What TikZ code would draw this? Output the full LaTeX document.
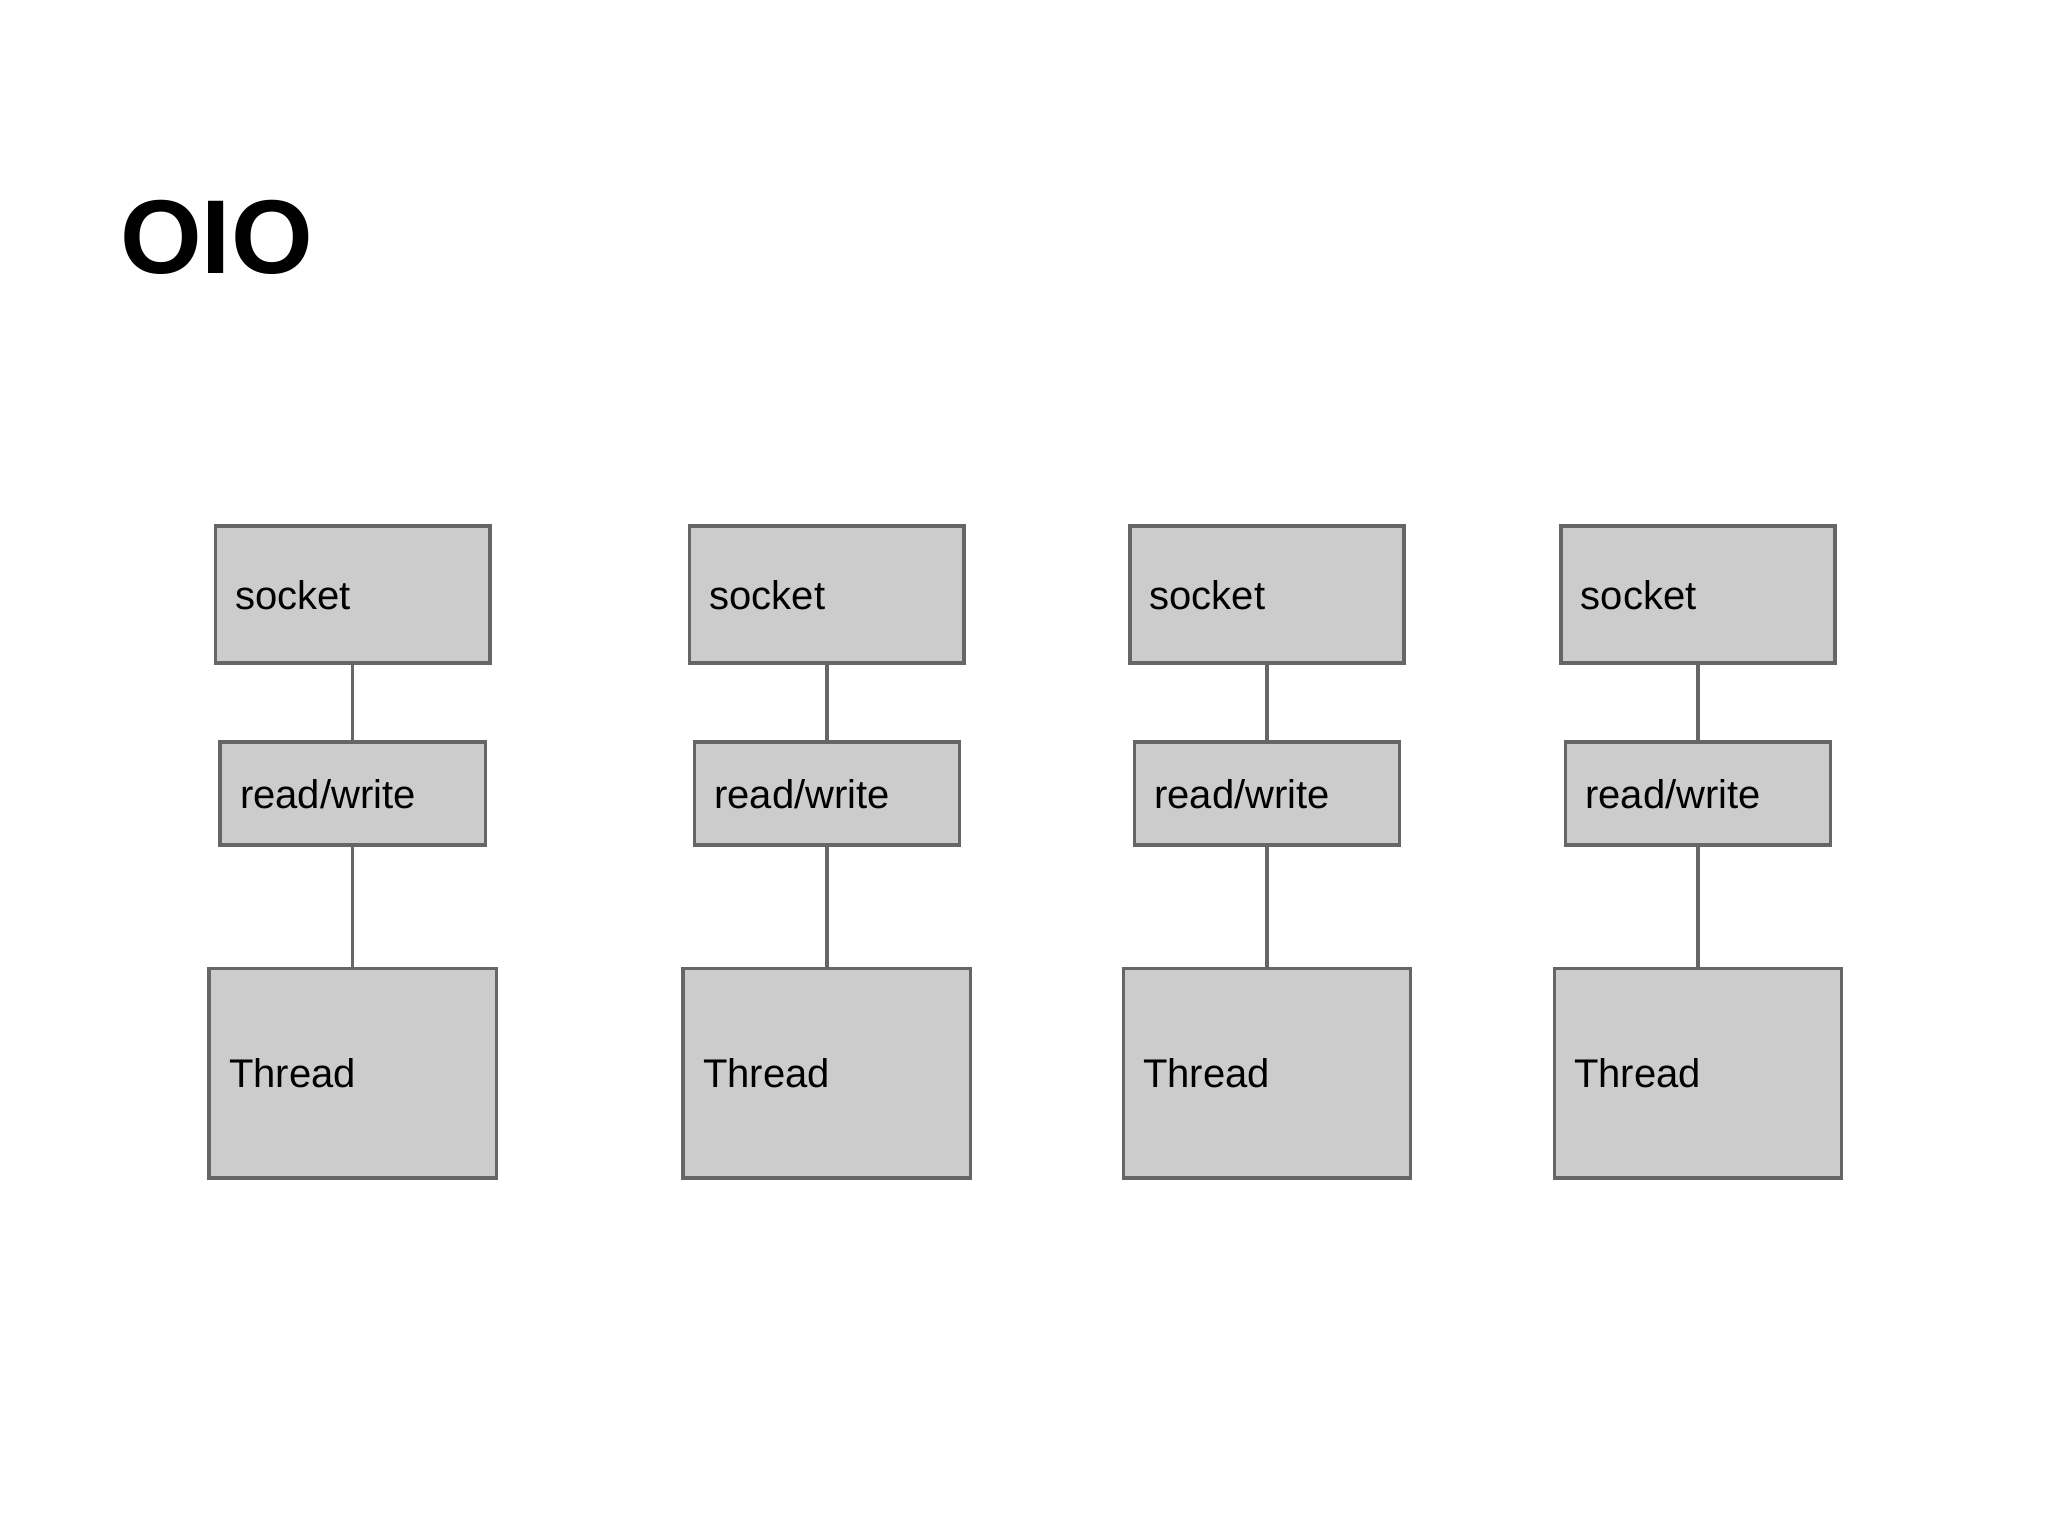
\documentclass[tikz,border=0pt]{standalone}
\usepackage{fontspec}
\setmainfont{Liberation Sans}
\definecolor{boxline}{HTML}{666666}
\definecolor{boxfill}{HTML}{CCCCCC}
\begin{document}
\begin{tikzpicture}[x=1pt,y=1pt,
  box/.style={draw=boxline, fill=boxfill, line width=3.5pt, inner sep=0pt},
  lbl/.style={anchor=west, inner sep=0pt, font=\fontsize{40}{48}\selectfont, text height=29pt, text depth=0pt},
  conn/.style={draw=boxline, line width=3.5pt}]
\useasboundingbox[fill=white] (0,0) rectangle (2048,-1536);
\node[anchor=base west, inner sep=0pt, font=\fontsize{105}{120}\selectfont\bfseries] (title) at (120,-273) {OIO};
\foreach \i/\cx in {1/352.7, 2/826.8, 3/1266.9, 4/1698.0} {
  \node[box, minimum width=274.3pt, minimum height=137.1pt] (s\i) at (\cx,-594.6) {};
  \node[lbl] (st\i) at ([xshift=21.5pt]s\i.west) {socket};
  \node[box, minimum width=265.1pt, minimum height=103.2pt] (r\i) at (\cx,-793.5) {};
  \node[lbl] (rt\i) at ([xshift=21.5pt]r\i.west) {read/write};
  \node[box, minimum width=287.3pt, minimum height=209.5pt] (t\i) at (\cx,-1073.3) {};
  \node[lbl] (tt\i) at ([xshift=21.5pt]t\i.west) {Thread};
  \draw[conn] (s\i.south) -- (r\i.north);
  \draw[conn] (r\i.south) -- (t\i.north);
}
\end{tikzpicture}
\end{document}
